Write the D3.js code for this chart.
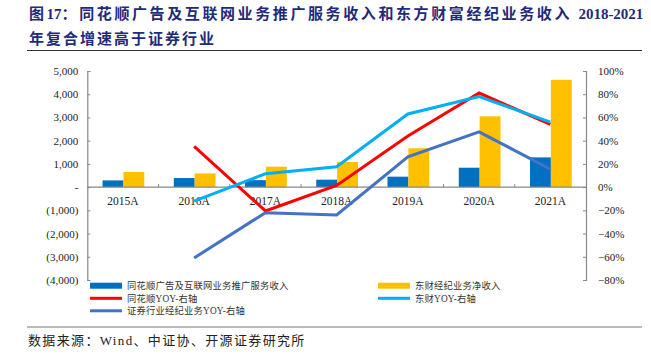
<!DOCTYPE html>
<html><head><meta charset="utf-8">
<script src="https://cdn.jsdelivr.net/npm/d3@7/dist/d3.min.js"></script>
<style>
html,body{margin:0;padding:0;background:#fff;}
svg{display:block;}
</style></head>
<body><svg id="c" width="651" height="355"></svg>
<script>
const categories = ["2015A","2016A","2017A","2018A","2019A","2020A","2021A"];
const thsRevenue = [290, 390, 300, 320, 450, 835, 1280];
const dcRevenue = [650, 590, 880, 1080, 1670, 3050, 4620];
const thsYoy = [null, 0.35, -0.205, 0.015, 0.44, 0.81, 0.54];
const dcYoy = [null, -0.12, 0.115, 0.175, 0.63, 0.78, 0.56];
const industryYoy = [null, -0.61, -0.22, -0.24, 0.26, 0.475, 0.155];
const leftTicks = [5000,4000,3000,2000,1000,0,-1000,-2000,-3000,-4000];
const rightTicks = [1.0,0.8,0.6,0.4,0.2,0,-0.2,-0.4,-0.6,-0.8];
const titleParts = [["图",true],["17",false],["：同花顺广告及互联网业务推广服务收入和东方财富经纪业务收入 ",true],["2018-2021",false]];
const titleLine2 = "年复合增速高于证券行业";
const sourceText = "数据来源：Wind、中证协、开源证券研究所";
const legendNames = ["同花顺广告及互联网业务推广服务收入","东财经纪业务净收入","同花顺YOY-右轴","东财YOY-右轴","证券行业经纪业务YOY-右轴"];

const colors = {ths:"#0070C0", dc:"#FFC000", thsY:"#FF0000", dcY:"#00B0F0", ind:"#4472C4"};
const svg = d3.select("#c");
const serif = "'Liberation Serif','Times New Roman','Noto Sans CJK SC',serif";
const cjk = "'Liberation Serif','Noto Sans CJK SC',sans-serif";

// title
const t1 = svg.append("text").attr("x",29).attr("y",19).attr("fill","#1f2a7c")
  .attr("font-family",cjk).attr("font-weight","bold").attr("font-size",15);
titleParts.forEach(p=>{
  t1.append("tspan").attr("letter-spacing",p[1]?2.6:0).text(p[0]);
});
svg.append("text").attr("x",29).attr("y",44).attr("fill","#1f2a7c")
  .attr("font-family",cjk).attr("font-weight","bold").attr("font-size",15)
  .attr("letter-spacing",2.0).text(titleLine2);
svg.append("line").attr("x1",27).attr("x2",642).attr("y1",50.5).attr("y2",50.5)
  .attr("stroke","#333").attr("stroke-width",1.2);

const L = 87.3, R = 586, T = 71, B = 280;
const x = d3.scaleBand().domain(categories).range([L,R]).padding(0);
const bw = x.bandwidth();
const x1 = d3.scaleBand().domain(["ths","dc"]).range([bw*0.214,bw*0.80]).padding(0);
const yL = d3.scaleLinear().domain([-4000,5000]).range([B,T]);
const yR = d3.scaleLinear().domain([-0.8,1.0]).range([B,T]);

// bars
const barData = categories.map((c,i)=>({c, ths:thsRevenue[i], dc:dcRevenue[i]}));
const g = svg.append("g");
["ths","dc"].forEach(k=>{
  g.selectAll("rect."+k).data(barData).enter().append("rect")
    .attr("x",d=>x(d.c)+x1(k)).attr("width",x1.bandwidth())
    .attr("y",d=>yL(Math.max(0,d[k]))).attr("height",d=>Math.abs(yL(d[k])-yL(0)))
    .attr("fill",colors[k]);
});

// axes
const fmtL = v => v===0 ? "-" : (v<0 ? "("+d3.format(",")(-v)+")" : d3.format(",")(v));
const axL = d3.axisLeft(yL).tickValues(leftTicks).tickFormat(fmtL).tickSizeInner(-3).tickSizeOuter(-3).tickPadding(9);
const gl = svg.append("g").attr("transform",`translate(${L},0)`).call(axL);
const axR = d3.axisRight(yR).tickValues(rightTicks).tickFormat(d3.format(".0%")).tickSizeInner(-3).tickSizeOuter(-3).tickPadding(12);
const gr = svg.append("g").attr("transform",`translate(${R},0)`).call(axR);
const axX = d3.axisBottom(x).tickSize(0).tickPadding(10);
const gx = svg.append("g").attr("transform",`translate(0,${yL(0)})`).call(axX);
gx.select(".domain").remove();
svg.append("line").attr("x1",L).attr("x2",R).attr("y1",yL(0)).attr("y2",yL(0)).attr("stroke","#888").attr("stroke-width",1.2);
categories.slice(1).forEach(c=>{
  svg.append("line").attr("x1",x(c)).attr("x2",x(c)).attr("y1",yL(0)).attr("y2",yL(0)-3).attr("stroke","#888");
});
[gl,gr,gx].forEach(a=>{
  a.selectAll("text").attr("font-family",serif).attr("font-size",11).attr("fill","#222");
  a.selectAll("path.domain").attr("stroke","#888").attr("stroke-width",1.2);
  a.selectAll(".tick line").attr("stroke","#888");
});
gx.selectAll("text").attr("font-size",11.5);

// lines
const line = d3.line().defined(d=>d.v!==null).x(d=>x(d.c)+bw/2).y(d=>yR(d.v));
const series = [
  {vals:thsYoy, color:colors.thsY, w:3},
  {vals:dcYoy, color:colors.dcY, w:3},
  {vals:industryYoy, color:colors.ind, w:3}
];
series.forEach(s=>{
  svg.append("path").datum(categories.map((c,i)=>({c,v:s.vals[i]})))
    .attr("d",line).attr("fill","none").attr("stroke",s.color).attr("stroke-width",s.w)
    .attr("stroke-linejoin","miter");
});

// legend
const leg = [
  {name:legendNames[0], type:"rect", color:colors.ths, x:90, y:285.7},
  {name:legendNames[1], type:"rect", color:colors.dc, x:378, y:285.7},
  {name:legendNames[2], type:"line", color:colors.thsY, x:90, y:298.3},
  {name:legendNames[3], type:"line", color:colors.dcY, x:378, y:298.3},
  {name:legendNames[4], type:"line", color:colors.ind, x:90, y:310.8}
];
leg.forEach(l=>{
  if(l.type==="rect") svg.append("rect").attr("x",l.x).attr("y",l.y-3).attr("width",32).attr("height",6).attr("fill",l.color);
  else svg.append("line").attr("x1",l.x).attr("x2",l.x+32).attr("y1",l.y).attr("y2",l.y).attr("stroke",l.color).attr("stroke-width",3);
  svg.append("text").attr("x",l.x+37).attr("y",l.y+3.5).attr("font-family",cjk).attr("font-size",9.3)
    .attr("letter-spacing",0.2).attr("fill","#333").text(l.name);
});

// bottom rule and source
svg.append("line").attr("x1",27).attr("x2",642).attr("y1",327).attr("y2",327).attr("stroke","#777").attr("stroke-width",1.2);
svg.append("text").attr("x",28).attr("y",345).attr("font-family",cjk).attr("font-size",13)
  .attr("letter-spacing",1.35).attr("fill","#222").text(sourceText);
</script></body></html>
